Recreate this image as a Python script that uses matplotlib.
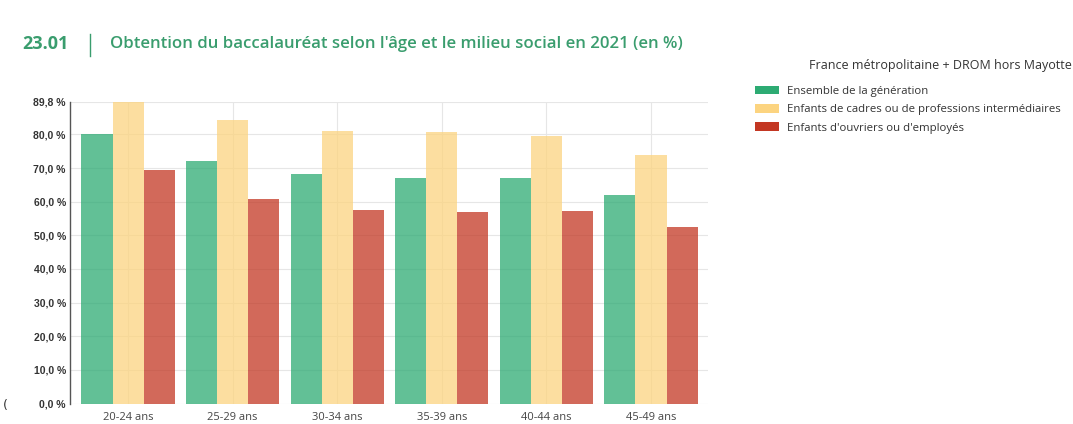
import matplotlib.pyplot as plt
from matplotlib.patches import Patch
import numpy as np

categories = ["20-24 ans", "25-29 ans", "30-34 ans", "35-39 ans", "40-44 ans", "45-49 ans"]
series_names = ["Ensemble de la génération",
                "Enfants de cadres ou de professions intermédiaires",
                "Enfants d'ouvriers ou d'employés"]
ensemble = [80.2, 72.0, 68.3, 67.1, 67.1, 61.9]
cadres = [89.8, 84.2, 81.0, 80.6, 79.5, 73.9]
ouvriers = [69.5, 60.8, 57.6, 56.9, 57.1, 52.6]
ytick_values = [0, 10, 20, 30, 40, 50, 60, 70, 80, 89.8]
ytick_labels = ["0,0 %", "10,0 %", "20,0 %", "30,0 %", "40,0 %", "50,0 %", "60,0 %", "70,0 %", "80,0 %", "89,8 %"]

colors = ["#2dab73", "#fcd480", "#c33723"]
alpha = 0.75
title_green = "#3a9d6e"
font = "Open Sans"

fig = plt.figure(figsize=(10.73, 4.24), dpi=100)
ax = fig.add_axes([70/1073, 1-403.5/424, (708-70)/1073, (403.5-101.5)/424])

x = np.arange(len(categories))
w = 0.297
for i, (vals, c) in enumerate(zip([ensemble, cadres, ouvriers], colors)):
    ax.bar(x + (i-1)*w, vals, width=w, color=c, alpha=alpha, zorder=2, linewidth=0)

ax.set_xlim(-0.555, 5.545)
ax.set_ylim(0, 89.8)
ax.set_yticks(ytick_values)
ax.set_yticklabels(ytick_labels, fontsize=7.5, fontweight='bold', color='#333333', family='Liberation Sans')
ax.set_xticks(x)
ax.set_xticklabels(categories, fontsize=8, color='#444444', family=font)
ax.tick_params(axis='both', length=0, pad=3)
ax.tick_params(axis='x', pad=6)
ax.grid(True, color='#e6e6e6', linewidth=0.8, zorder=0)
for s in ['top', 'right', 'bottom']:
    ax.spines[s].set_visible(False)
ax.spines['left'].set_color('#555555')
ax.spines['left'].set_linewidth(1.0)

# Title
fig.text(22/1073, 1-44/424, "23.01", fontsize=13, fontweight='bold', color=title_green, family=font, va='center')
fig.add_artist(plt.Line2D([90/1073, 90/1073], [1-34/424, 1-56/424], color=title_green, linewidth=1))
fig.text(110/1073, 1-44/424, "Obtention du baccalauréat selon l'âge et le milieu social en 2021 (en %)",
         fontsize=12.1, fontweight='semibold', color=title_green, family=font, va='center')

# Subtitle and legend
fig.text(1072/1073, 1-65/424, "France métropolitaine + DROM hors Mayotte", fontsize=9, color='#333333',
         family=font, ha='right', va='center')
handles = [Patch(facecolor=c, edgecolor='none') for c in colors]
leg = fig.legend(handles, series_names, loc='upper left', bbox_to_anchor=(755/1073, 1-86/424),
                 frameon=False, prop={'family': font, 'size': 8.2}, handlelength=2.1, handleheight=0.75,
                 handletextpad=0.75, labelspacing=0.62, borderaxespad=0, borderpad=0)
for t in leg.get_texts():
    t.set_color('#333333')

fig.text(3/1073, 1-406/424, "(", fontsize=9, color='#333333', va='center')

fig.savefig("out.png", dpi=100, facecolor='white')
